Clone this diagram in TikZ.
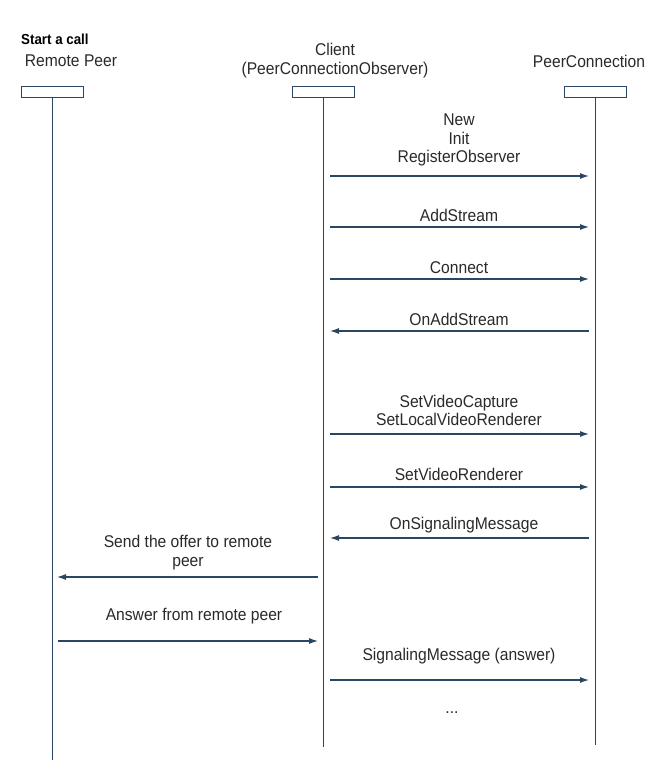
\documentclass[tikz,border=0pt]{standalone}
\usepackage{fontspec}
\setmainfont{Liberation Sans}[FakeStretch=0.92]
\usetikzlibrary{arrows.meta}
\definecolor{lineblue}{HTML}{2A4663}
\definecolor{txt}{HTML}{2A2A2A}
\begin{document}
\begin{tikzpicture}[x=1pt,y=-1pt,
  headbox/.style={draw=lineblue,line width=1pt,fill=white,minimum width=62pt,minimum height=11pt,inner sep=0pt},
  lifeline/.style={draw=lineblue,line width=1pt},
  msg/.style={draw=lineblue,line width=1.1pt,-{Latex[length=9pt,width=6pt]}},
  lbl/.style={text=txt,font=\fontsize{17}{18.5}\selectfont,align=center,inner sep=0pt},
  ttl/.style={text=txt,font=\fontsize{17}{19}\selectfont,align=center,inner sep=0pt}]
\useasboundingbox[fill=white] (0,0) rectangle (662,770);

% title
\node[anchor=west,text=black,font=\bfseries\fontsize{14.5}{16}\selectfont,inner sep=0pt] (title) at (21,39) {Start a call};

% participants
\node[ttl] (rpname) at (71,61) {Remote Peer};
\node[ttl] (clname) at (335,61) {Client\\(PeerConnectionObserver)};
\node[ttl] (pcname) at (589,61) {PeerConnection};

\node[headbox] (rpbox) at (52,92.5) {};
\node[headbox] (clbox) at (323,92.5) {};
\node[headbox] (pcbox) at (595,92.5) {};

\coordinate (rpend) at (52,760);
\coordinate (clend) at (323,747);
\coordinate (pcend) at (595,745);
\draw[lifeline] (rpbox.south) -- (rpend);
\draw[lifeline] (clbox.south) -- (clend);
\draw[lifeline] (pcbox.south) -- (pcend);

% message end points: client side (cl*) and PeerConnection side (pc*)
\foreach \n/\y in {a/176,b/227,c/279,d/331,e/434,f/487,g/538,h/680}{
  \coordinate (cl\n) at (330,\y);
  \coordinate (pc\n) at (589,\y);
}
% client <-> remote peer end points
\coordinate (offerfrom) at (318,577);
\coordinate (offerto) at (57,577);
\coordinate (answerfrom) at (58,641);
\coordinate (answerto) at (318,641);

% messages
\draw[msg] (cla) -- (pca);
\node[lbl] (la) at (459,140) {New\\Init\\RegisterObserver};
\draw[msg] (clb) -- (pcb);
\node[lbl] (lb) at (459,215.5) {AddStream};
\draw[msg] (clc) -- (pcc);
\node[lbl] (lc) at (459,267.5) {Connect};
\draw[msg] (pcd) -- (cld);
\node[lbl] (ld) at (459,319.5) {OnAddStream};
\draw[msg] (cle) -- (pce);
\node[lbl] (le) at (459,410.5) {SetVideoCapture\\SetLocalVideoRenderer};
\draw[msg] (clf) -- (pcf);
\node[lbl] (lf) at (459,474.5) {SetVideoRenderer};
\draw[msg] (pcg) -- (clg);
\node[lbl] (lg) at (464,525.5) {OnSignalingMessage};
\draw[msg] (offerfrom) -- (offerto);
\node[lbl] (ls) at (188,552.5) {Send the offer to remote\\peer};
\draw[msg] (answerfrom) -- (answerto);
\node[lbl] (lr) at (194,616.5) {Answer from remote peer};
\draw[msg] (clh) -- (pch);
\node[lbl] (lh) at (459,656.5) {SignalingMessage (answer)};
\node[lbl] (dots) at (452,713) {...};
\end{tikzpicture}
\end{document}
